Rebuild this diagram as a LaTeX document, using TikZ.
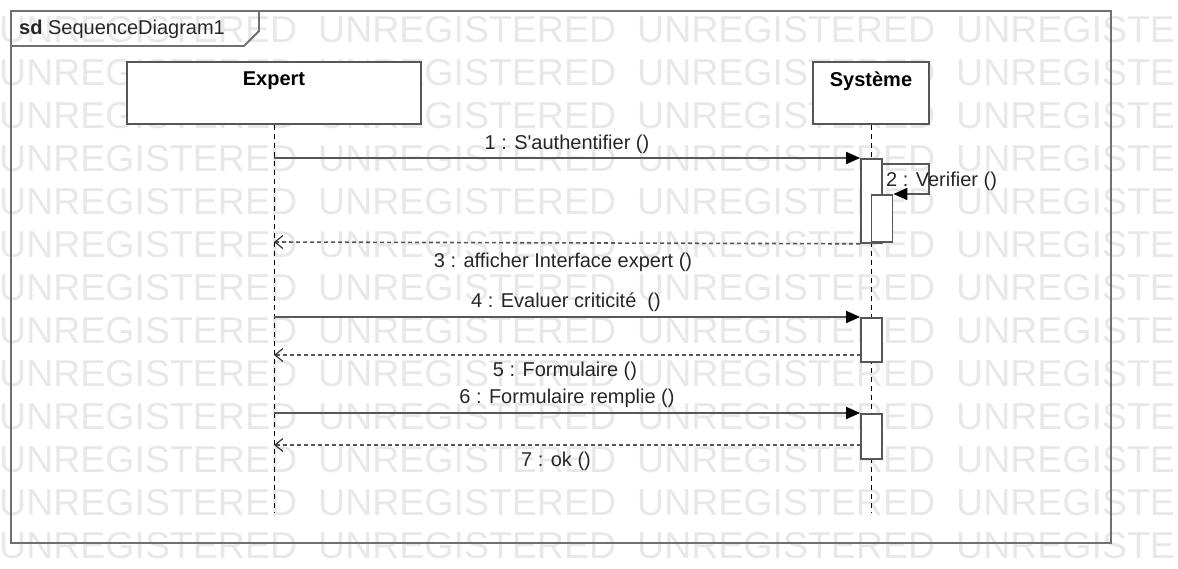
\documentclass[tikz,border=0pt]{standalone}
\usepackage{fontspec}
\setmainfont{Liberation Sans}
\usetikzlibrary{arrows.meta}
\definecolor{wm}{HTML}{E8E8E8}
\definecolor{edge}{HTML}{575757}
\definecolor{frameC}{HTML}{707070}
\begin{document}
\begin{tikzpicture}[x=1pt,y=-1pt,
  wmtext/.style={font=\fontsize{37.5}{40}\selectfont, text=wm, inner sep=0pt, anchor=west},
  lbl/.style={font=\fontsize{20}{22}\selectfont, text=black!85, inner sep=0pt},
  headbox/.style={draw=edge, line width=1.8pt, fill=white, minimum height=62pt, inner sep=0pt},
  headtxt/.style={font=\bfseries\fontsize{20}{22}\selectfont, inner sep=0pt},
  lifeline/.style={draw=black, line width=1pt, dash pattern=on 5pt off 4pt},
  actbox/.style={draw=edge, line width=1.8pt, fill=white, minimum width=21pt, inner sep=0pt, anchor=north},
  msg/.style={draw=edge, line width=1.8pt, -{Triangle[length=14pt,width=12pt,fill=black,color=black]}},
  ret/.style={draw=edge, line width=1.6pt, dash pattern=on 4pt off 3pt,
    -{Straight Barb[length=8pt,width=13pt,line width=1.2pt,color=black!80]}}
]
\useasboundingbox (0,0) rectangle (1178,569);

% background watermark rows
\begin{scope}
  \clip (0,0) rectangle (1178,569);
  \foreach \r in {0,...,12} {
    \foreach \c in {0,...,3} {
      \node[wmtext] at (\c*319-1, 30+\r*43) {UNREGISTERED};
    }
  }
\end{scope}

% diagram frame and its name tab
\draw[frameC, line width=2pt] (11,11) rectangle (1111,543);
\draw[frameC, line width=1.8pt] (11,46) -- (244,46) -- (259,31) -- (259,11);
\node[lbl, anchor=west] (frametitle) at (19,29) {\textbf{sd}\ SequenceDiagram1};

% lifeline heads
\node[headbox, minimum width=294pt] (expert) at (274,93) {};
\node[headtxt] (expertname) at ([yshift=-20pt]expert.north) {Expert};
\node[headbox, minimum width=116pt] (systeme) at (871,93) {};
\node[headtxt] (systemename) at ([yshift=-20pt]systeme.north) {Système};

% lifelines
\coordinate (expertend) at (274,512);
\coordinate (systemeend) at (871,512);
\draw[lifeline] (expert.south) -- (expertend);
\draw[lifeline] (systeme.south) -- (systemeend);

% activation bars
\node[actbox, minimum height=84pt] (a1) at (871.5,158) {};
\node[actbox, minimum height=47pt] (a2) at (882,194) {};
\node[actbox, minimum height=44pt] (a3) at (871.5,317) {};
\node[actbox, minimum height=45pt] (a4) at (871.5,413) {};

% message end points on the Expert lifeline
\coordinate (e1) at (274,158);
\coordinate (e3) at (274,242);
\coordinate (e4) at (274,317);
\coordinate (e5) at (274,355);
\coordinate (e6) at (274,413);
\coordinate (e7) at (274,445);
\coordinate (r5) at (861,355);
\coordinate (r7) at (861,445);
\coordinate (s0) at (882,164);
\coordinate (s1) at (929,164);
\coordinate (s2) at (929,194);

% messages
\draw[msg] (e1) -- (a1.north west);
\draw[msg] (s0) -- (s1) -- (s2) -- (a2.north east);
\draw[ret] (a1.south west) -- (e3);
\draw[msg] (e4) -- (a3.north west);
\draw[ret] (r5) -- (e5);
\draw[msg] (e6) -- (a4.north west);
\draw[ret] (r7) -- (e7);

% message labels
\node[lbl] (m1) at (567,144) {1 : S\textquotesingle authentifier ()};
\node[lbl, anchor=west] (m2) at (886,181) {2 : Verifier ()};
\node[lbl] (m3) at (563,262) {3 : afficher Interface expert ()};
\node[lbl] (m4) at (566,302) {4 : Evaluer criticité~ ()};
\node[lbl] (m5) at (565,371) {5 : Formulaire ()};
\node[lbl] (m6) at (567,398) {6 : Formulaire remplie ()};
\node[lbl] (m7) at (556,461) {7 : ok ()};
\end{tikzpicture}
\end{document}
